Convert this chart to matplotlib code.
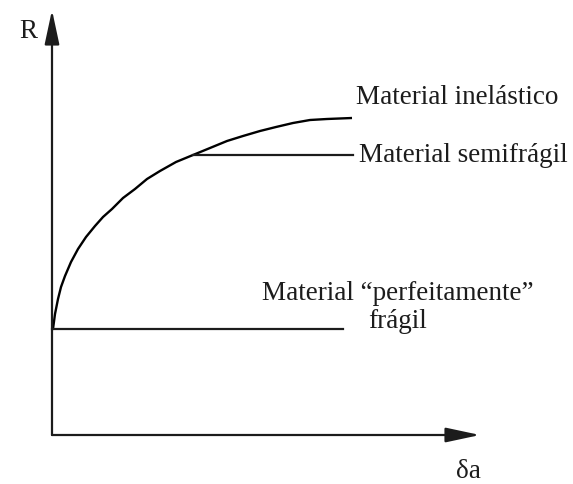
import matplotlib.pyplot as plt
from matplotlib.patches import ArrowStyle

# curva R x delta a (origem no canto dos eixos)
da = [1, 3, 6, 9, 13, 19, 26, 34, 43, 51, 60, 71, 83, 95, 108, 124,
      141, 158, 175, 191, 208, 224, 241, 258, 275, 300]
R = [106, 121, 136, 148, 159, 173, 186, 198, 209, 218, 226, 237, 246, 256,
     264, 273, 280, 287, 294, 299, 304, 308, 312, 315, 316, 317]

# linhas horizontais (x inicial, x final, R)
semifragil = [141, 301, 280]
fragil = [0, 291, 106]

# rotulos
rotulos = ["Material inelástico", "Material semifrágil",
           "Material \u201cperfeitamente\u201d", "frágil"]
eixo_y = "R"
eixo_x = "\u03b4a"

plt.rcParams['font.family'] = ['Liberation Serif', 'DejaVu Serif']

fig = plt.figure(figsize=(5.73, 4.85), dpi=100)
ax = fig.add_axes([0, 0, 1, 1])
ax.set_xlim(-52, 521)
ax.set_ylim(-49, 436)
ax.axis('off')

cor = '#1c1c1c'
seta = ArrowStyle('-|>', head_length=2.1, head_width=0.45)

# eixos com setas
ax.annotate('', xy=(0, 425), xytext=(0, 0),
            arrowprops=dict(arrowstyle=seta, mutation_scale=10, color=cor,
                            lw=1.6, shrinkA=0, shrinkB=0))
ax.annotate('', xy=(428, 0), xytext=(0, 0),
            arrowprops=dict(arrowstyle=seta, mutation_scale=10, color=cor,
                            lw=1.6, shrinkA=0, shrinkB=0))

ax.plot([0] + da, [fragil[2]] + R, color='black', lw=1.7,
        solid_joinstyle='round', solid_capstyle='butt')
ax.plot(semifragil[:2], [semifragil[2]] * 2, color=cor, lw=1.6)
ax.plot(fragil[:2], [fragil[2]] * 2, color=cor, lw=1.6)

fs = 19.5
ax.text(-24, 404, eixo_y, fontsize=fs, color=cor, ha='center', va='center')
ax.text(416, -36, eixo_x, fontsize=fs, color=cor, ha='center', va='center')
ax.text(304, 338, rotulos[0], fontsize=fs, color=cor, va='center')
ax.text(307, 281, rotulos[1], fontsize=fs, color=cor, va='center')
ax.text(210, 143, rotulos[2], fontsize=fs, color=cor, va='center')
ax.text(316, 114, rotulos[3], fontsize=fs, color=cor, va='center')

fig.savefig('out.png', dpi=100)
